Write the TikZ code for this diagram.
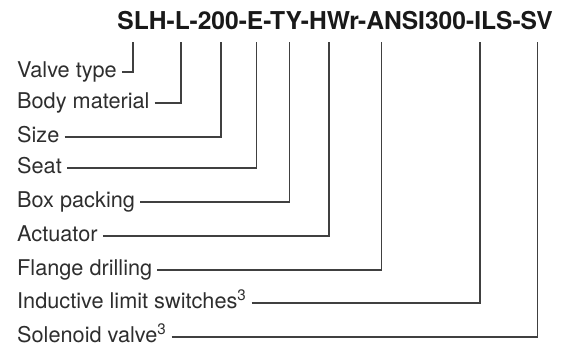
\documentclass[tikz,border=0pt]{standalone}
\usepackage{fontspec}
\setmainfont{TeX Gyre Heros}
\begin{document}
\begin{tikzpicture}[x=1pt,y=-1pt,
  lbl/.style={anchor=west,inner xsep=5pt,inner ysep=0pt,text height=15pt,
    text depth=4pt,text=black!82,font=\fontsize{21.7}{24}\selectfont},
  lead/.style={draw=black!75,line width=1.1pt}]
  \useasboundingbox (0,0) rectangle (563,347);
  % Type code
  \node[anchor=base east,inner sep=0pt,text=black!90,
    font=\fontsize{24.6}{28}\selectfont\bfseries] (code) at (553,30)
    {SLH-L-200-E-TY-HWr-ANSI300-ILS-SV};
  % Tops of the leaders, under the code
  \coordinate (c1) at (133,42);
  \coordinate (c2) at (181,42);
  \coordinate (c3) at (221,42);
  \coordinate (c4) at (256.5,42);
  \coordinate (c5) at (289.5,42);
  \coordinate (c6) at (329,42);
  \coordinate (c7) at (381.5,42);
  \coordinate (c8) at (480,42);
  \coordinate (c9) at (537.5,42);
  % Labels
  \node[lbl] (vt) at (12,72) {Valve type};
  \node[lbl] (bm) at (12,103) {Body material};
  \node[lbl] (sz) at (12,137) {Size};
  \node[lbl] (st) at (12,168) {Seat};
  \node[lbl] (bp) at (12,202) {Box packing};
  \node[lbl] (ac) at (12,236) {Actuator};
  \node[lbl] (fd) at (12,270) {Flange drilling};
  \node[lbl] (ils) at (12,303) {Inductive limit switches\textsuperscript{3}};
  \node[lbl] (sv) at (12,337) {Solenoid valve\textsuperscript{3}};
  % Leaders
  \draw[lead] (vt.east) -| (c1);
  \draw[lead] (bm.east) -| (c2);
  \draw[lead] (sz.east) -| (c3);
  \draw[lead] (st.east) -| (c4);
  \draw[lead] (bp.east) -| (c5);
  \draw[lead] (ac.east) -| (c6);
  \draw[lead] (fd.east) -| (c7);
  \draw[lead] (ils.east) -| (c8);
  \draw[lead] (sv.east) -| (c9);
\end{tikzpicture}
\end{document}
